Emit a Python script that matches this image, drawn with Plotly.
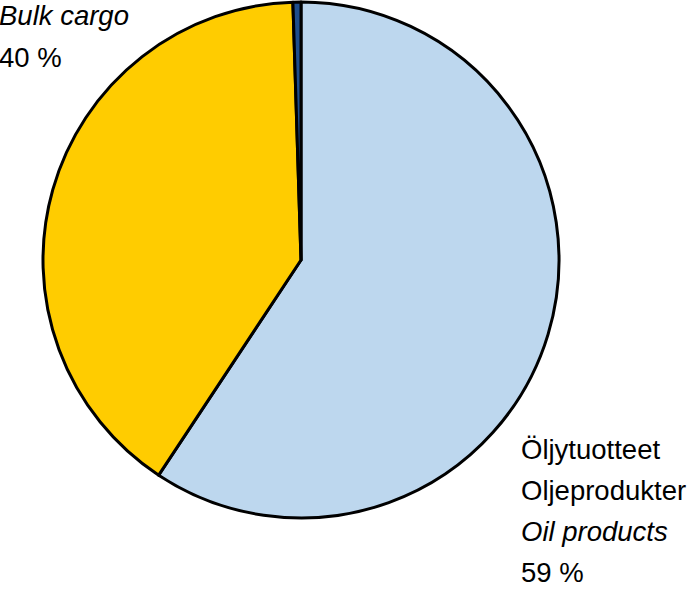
import plotly.graph_objects as go

categories = ["Oil products", "Bulk cargo", "Other"]
values = [59.3, 40.2, 0.5]
colors = ["#BDD7EE", "#FFCC00", "#1F4E8C"]

W, H = 687, 590
cx, cy, r = 301, 260, 258

fig = go.Figure(go.Pie(
    labels=categories, values=values, sort=False, direction="clockwise", rotation=0,
    marker=dict(colors=colors, line=dict(color="black", width=3)),
    textinfo="none", hoverinfo="label+percent", showlegend=False,
    domain=dict(x=[(cx - r) / W, (cx + r) / W], y=[(H - cy - r) / H, (H - cy + r) / H]),
))

font = dict(family="Liberation Sans, Arial", size=27.5, color="black")

def label(lines, x, y0, step):
    for i, (txt, italic) in enumerate(lines):
        t = f"<i>{txt}</i>" if italic else txt
        fig.add_annotation(x=x / W, y=1 - (y0 + i * step) / H, xref="paper", yref="paper",
                           text=t, showarrow=False, xanchor="left", yanchor="middle",
                           font=font)

label([("Bulk cargo", True), ("40 %", False)], -3, 15, 42)
label([("Öljytuotteet", False), ("Oljeprodukter", False), ("Oil products", True), ("59 %", False)], 519, 449, 41)

fig.update_layout(width=W, height=H, margin=dict(l=0, r=0, t=0, b=0),
                  paper_bgcolor="white", plot_bgcolor="white")
fig.write_html("out.html", config={"displayModeBar": False},
               post_script="document.body.style.margin='0';")
